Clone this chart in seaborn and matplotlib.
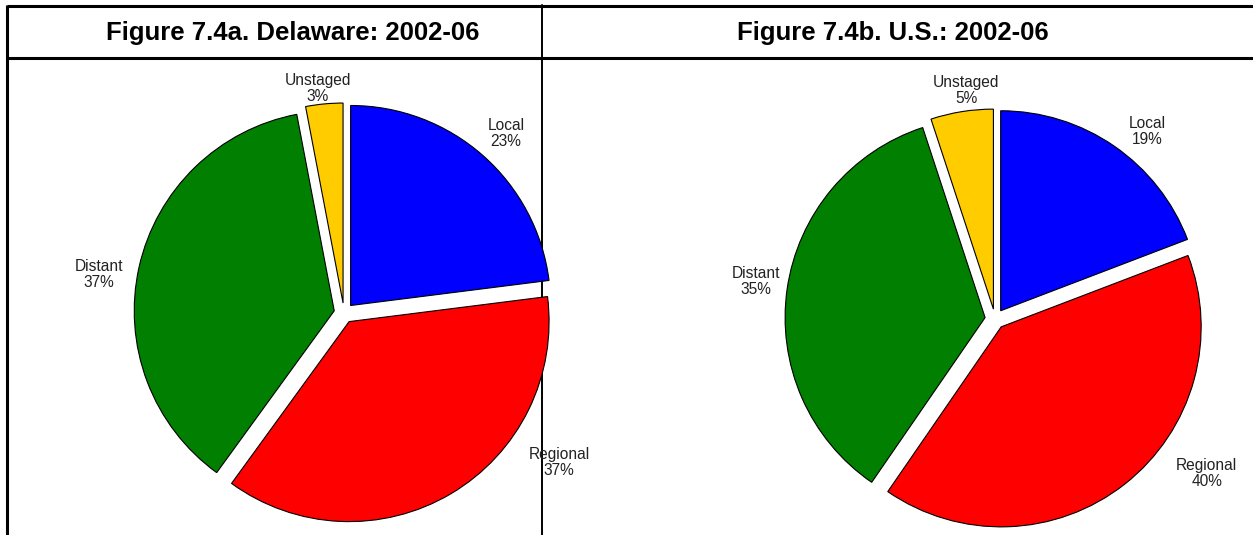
import numpy as np
import matplotlib
matplotlib.use("Agg")
import matplotlib.pyplot as plt
import seaborn as sns

# ---- data ----
stages = ["Local", "Regional", "Distant", "Unstaged"]
delaware_pct = [23, 37, 37, 3]
us_pct = [19, 40, 35, 5]
titles = ["Figure 7.4a. Delaware: 2002-06", "Figure 7.4b. U.S.: 2002-06"]
stage_colors = ["#0000FF", "#FF0000", "#007F00", "#FFCC00"]

# label placement (angle in degrees, distance in radii) per stage
label_place_a = [(48, 1.21), (-34.8, 1.31), (171, 1.24), (96.6, 1.13)]
label_place_b = [(50.9, 1.21), (-36.1, 1.31), (171, 1.21), (97.2, 1.15)]

sns.set_theme(style="white")
plt.rcParams["font.family"] = ["Liberation Sans", "DejaVu Sans"]

W, H = 1253, 535
fig = plt.figure(figsize=(W / 100, H / 100), dpi=100)
fig.patch.set_facecolor("white")

# frame axes covering whole figure, pixel coordinates (y down)
frame = fig.add_axes([0, 0, 1, 1])
frame.set_xlim(0, W)
frame.set_ylim(H, 0)
frame.axis("off")

line_kw = dict(color="black", lw=2.2, solid_capstyle="butt")
frame.plot([7, W], [6, 6], **line_kw)
frame.plot([7, W], [58, 58], **line_kw)
frame.plot([7, 7], [5, H], **line_kw)
frame.plot([542, 542], [5, H], lw=1.4, color="black")

frame.text(293, 33, titles[0], ha="center", va="center", fontsize=18.5,
           fontweight="bold", color="black")
frame.text(893, 33, titles[1], ha="center", va="center", fontsize=18.5,
           fontweight="bold", color="black")


def draw_pie(cx, cy, R, values, places):
    S = 330
    ax = fig.add_axes([(cx - S) / W, 1 - (cy + S) / H, 2 * S / W, 2 * S / H])
    lim = S / R
    explode = [0.05] * len(values)
    ax.pie(values, colors=stage_colors, startangle=90,
           counterclock=False, explode=explode, radius=1.0,
           wedgeprops=dict(edgecolor="black", linewidth=0.8),
           frame=False)
    ax.set_xlim(-lim, lim)
    ax.set_ylim(-lim, lim)
    ax.axis("off")
    for name, v, (ang, d) in zip(stages, values, places):
        a = np.deg2rad(ang)
        ax.text(d * np.cos(a), d * np.sin(a), f"{name}\n{v}%", ha="center",
                va="center", fontsize=11.2, color="#222222", linespacing=1.1,
                clip_on=False)
    return ax


draw_pie(344, 313, 200, delaware_pct, label_place_a)
draw_pie(995, 319, 200, us_pct, label_place_b)

fig.savefig("out.png", dpi=100, facecolor="white")
